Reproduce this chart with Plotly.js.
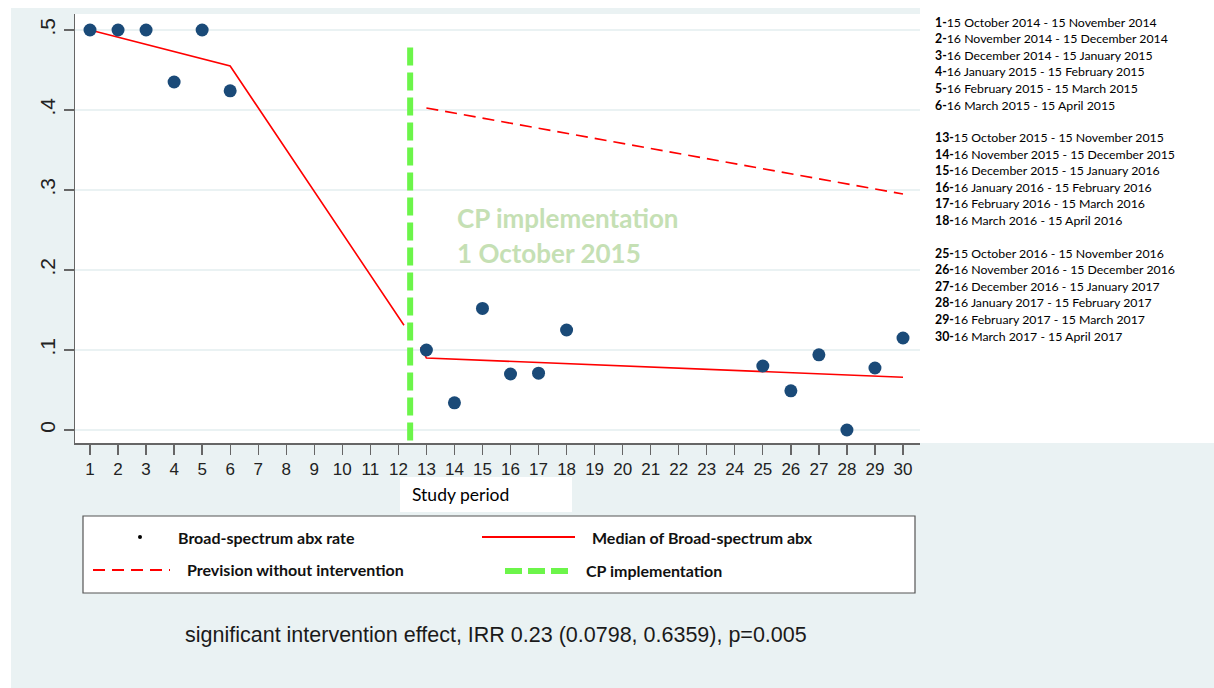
<!DOCTYPE html>
<html>
<head>
<meta charset="utf-8">
<script src="https://cdn.plot.ly/plotly-3.0.1.min.js"></script>
<style>html,body{margin:0;padding:0;background:#fff;}#chart{width:1214px;height:688px;}</style>
</head>
<body>
<div id="chart"></div>
<script>
// ---- data ----
const periods = [1,2,3,4,5,6,13,14,15,16,17,18,25,26,27,28,29,30];
const rates   = [0.5,0.5,0.5,0.435,0.5,0.424,0.1,0.034,0.152,0.07,0.071,0.125,0.08,0.049,0.094,0,0.0775,0.115];
const medianX = [1,6,12.2,null,12.8,13,30];
const medianY = [0.5,0.455,0.131,null,0.104,0.09,0.066];
const previsionX = [13,30];
const previsionY = [0.4025,0.295];
const cpX = [12.42,12.42];
const cpY = [0.478,-0.03];
const xTicks = Array.from({length:30},(_,i)=>i+1);
const yTickVals = [0,0.1,0.2,0.3,0.4,0.5];
const yTickText = ['0','.1','.2','.3','.4','.5'];
const periodLabels = [
 ['1-','15 October 2014 - 15 November 2014'],
 ['2-','16 November 2014 - 15 December 2014'],
 ['3-','16 December 2014 - 15 January 2015'],
 ['4-','16 January 2015 - 15 February 2015'],
 ['5-','16 February 2015 - 15 March 2015'],
 ['6-','16 March 2015 - 15 April 2015'],
 ['13-','15 October 2015 - 15 November 2015'],
 ['14-','16 November 2015 - 15 December 2015'],
 ['15-','16 December 2015 - 15 January 2016'],
 ['16-','16 January 2016 - 15 February 2016'],
 ['17-','16 February 2016 - 15 March 2016'],
 ['18-','16 March 2016 - 15 April 2016'],
 ['25-','15 October 2016 - 15 November 2016'],
 ['26-','16 November 2016 - 15 December 2016'],
 ['27-','16 December 2016 - 15 January 2017'],
 ['28-','16 January 2017 - 15 February 2017'],
 ['29-','16 February 2017 - 15 March 2017'],
 ['30-','16 March 2017 - 15 April 2017']
];
const legendLabels = ['Broad-spectrum abx rate','Median of Broad-spectrum abx','Prevision without intervention','CP implementation'];
const noteText = 'significant intervention effect, IRR 0.23 (0.0798, 0.6359), p=0.005';
const cpNote = ['CP implementation','1 October 2015'];

// ---- layout helpers (pixel -> paper) ----
const W=1214,H=688,L=75,R=294,T=14,B=245;
const PW=W-L-R, PH=H-T-B;
const px=(x)=>(x-L)/PW;
const py=(y)=>(H-B-y)/PH;

const BG='#eaf2f3';
const RED='#ff0000';
const GREEN='#6cf54a';
const NAVY='#1a4a78';
const CAL='Lato, "Open Sans", sans-serif';
const ARIAL='"Liberation Sans", Arial, sans-serif';

const traces = [
 {x:medianX,y:medianY,mode:'lines',line:{color:RED,width:1.6},hoverinfo:'skip',connectgaps:false},
 {x:previsionX,y:previsionY,mode:'lines',line:{color:RED,width:1.6,dash:'12px,7px'},hoverinfo:'skip'},
 {x:cpX,y:cpY,mode:'lines',line:{color:GREEN,width:6,dash:'18px,7px'},hoverinfo:'skip'},
 {x:periods,y:rates,mode:'markers',marker:{color:NAVY,size:13,line:{width:0}},cliponaxis:false}
];

const shapes = [
 {type:'rect',xref:'paper',yref:'paper',x0:px(0),x1:px(W),y0:py(8),y1:py(0),fillcolor:'#fff',line:{width:0},layer:'below'},
 {type:'rect',xref:'paper',yref:'paper',x0:px(0),x1:px(11),y0:py(H),y1:py(0),fillcolor:'#fff',line:{width:0},layer:'below'},
 {type:'rect',xref:'paper',yref:'paper',x0:px(920),x1:px(W),y0:py(443),y1:py(0),fillcolor:'#fff',line:{width:0},layer:'below'},
 // study period box
 {type:'rect',xref:'paper',yref:'paper',x0:px(400),x1:px(572),y0:py(512),y1:py(477),fillcolor:'#fff',line:{width:0},layer:'below'},
 // legend box
 {type:'rect',xref:'paper',yref:'paper',x0:px(83),x1:px(915),y0:py(593),y1:py(516),fillcolor:'#fff',line:{color:'#555',width:1.2}},
 // legend samples
 {type:'circle',xref:'paper',yref:'paper',x0:px(138),x1:px(142),y0:py(539),y1:py(535),fillcolor:'#000',line:{width:0}},
 {type:'line',xref:'paper',yref:'paper',x0:px(482),x1:px(575),y0:py(537),y1:py(537),line:{color:RED,width:1.8}},
 {type:'line',xref:'paper',yref:'paper',x0:px(93),x1:px(170),y0:py(570),y1:py(570),line:{color:RED,width:1.8,dash:'12px,7px'}},
 {type:'line',xref:'paper',yref:'paper',x0:px(505),x1:px(568),y0:py(571),y1:py(571),line:{color:GREEN,width:6,dash:'17px,6px'}}
];

const annotations = [];
periodLabels.forEach((p,i)=>{
  const group=Math.floor(i/6), k=i%6;
  const yy = 22 + group*115.5 + k*16.6;
  annotations.push({xref:'paper',yref:'paper',x:px(933),y:py(yy),xanchor:'left',yanchor:'middle',showarrow:false,
    text:'<b>'+p[0]+'</b>'+p[1],font:{family:CAL,size:12.3,color:'#000'}});
});
annotations.push({xref:'paper',yref:'paper',x:px(455),y:py(218),xanchor:'left',yanchor:'middle',showarrow:false,text:'<b>'+cpNote[0]+'</b>',font:{family:CAL,size:26,color:'#c5e0b4'}});
annotations.push({xref:'paper',yref:'paper',x:px(455),y:py(253),xanchor:'left',yanchor:'middle',showarrow:false,text:'<b>'+cpNote[1]+'</b>',font:{family:CAL,size:26,color:'#c5e0b4'}});
annotations.push({xref:'paper',yref:'paper',x:px(410),y:py(495),xanchor:'left',yanchor:'middle',showarrow:false,text:'Study period',font:{family:CAL,size:17.5,color:'#000'}});
const legPos=[[176,537],[590,537],[185,569],[584,570]];
legendLabels.forEach((t,i)=>{
  annotations.push({xref:'paper',yref:'paper',x:px(legPos[i][0]),y:py(legPos[i][1]),xanchor:'left',yanchor:'middle',showarrow:false,text:'<b>'+t+'</b>',font:{family:CAL,size:16,color:'#111'}});
});
annotations.push({xref:'paper',yref:'paper',x:px(183),y:py(635),xanchor:'left',yanchor:'middle',showarrow:false,text:noteText,font:{family:ARIAL,size:21.5,color:'#1a1a1a'}});

const layout = {
  width:W,height:H,
  margin:{l:L,r:R,t:T,b:B,pad:0},
  paper_bgcolor:BG,plot_bgcolor:'#fff',
  showlegend:false,
  xaxis:{range:[1-15/28.03,30+17/28.03],tickmode:'array',tickvals:xTicks,ticktext:xTicks.map(String),
    showgrid:false,zeroline:false,showline:true,linecolor:'#666',linewidth:1.5,
    ticks:'outside',ticklen:10,tickcolor:'#666',tickwidth:1.3,
    tickfont:{family:ARIAL,size:17,color:'#222'},tickangle:0,fixedrange:true},
  yaxis:{range:[-13/800,0.5+16/800],tickmode:'array',tickvals:yTickVals,ticktext:yTickText,
    showgrid:true,gridcolor:BG,gridwidth:1.5,zeroline:false,showline:true,linecolor:'#666',linewidth:1.5,
    ticks:'outside',ticklen:10,tickcolor:'#666',tickwidth:1.3,tickangle:-90,
    tickfont:{family:ARIAL,size:21,color:'#222'},fixedrange:true},
  shapes:shapes,
  annotations:annotations
};
Plotly.newPlot('chart',traces,layout,{displayModeBar:false,staticPlot:true});
</script>
</body>
</html>
